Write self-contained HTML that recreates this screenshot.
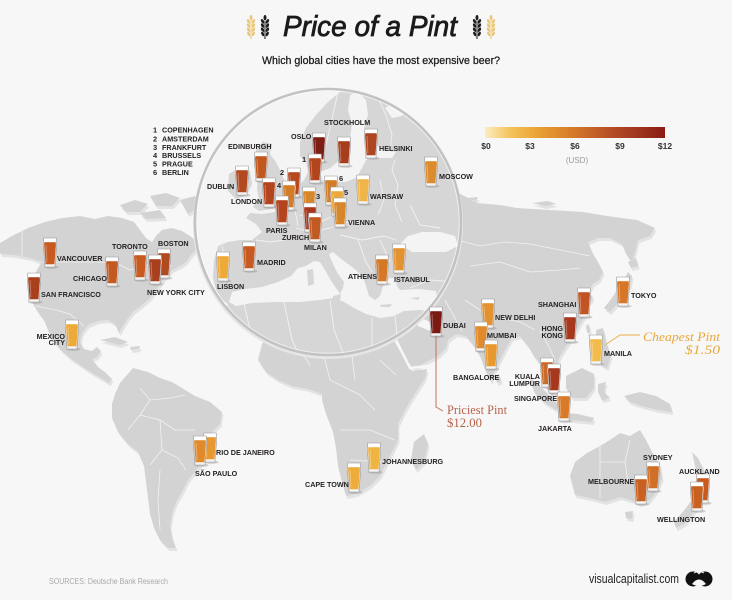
<!DOCTYPE html>
<html><head><meta charset="utf-8"><style>
html,body{margin:0;padding:0;background:#f7f7f7}
svg{display:block}
.l{font-family:"Liberation Sans",sans-serif;font-weight:bold;font-size:7.2px;fill:#231f20}
.n{font-family:"Liberation Sans",sans-serif;font-weight:bold;font-size:7.4px;fill:#231f20}
</style></head><body>
<svg width="732" height="600" viewBox="0 0 732 600" xmlns="http://www.w3.org/2000/svg">
<defs>
<linearGradient id="lg" x1="0" x2="1" y1="0" y2="0">
<stop offset="0" stop-color="#fcecc2"/><stop offset=".14" stop-color="#f4c35a"/><stop offset=".3" stop-color="#e9a030"/><stop offset=".5" stop-color="#d4772a"/><stop offset=".72" stop-color="#b24a25"/><stop offset="1" stop-color="#8a1c16"/>
</linearGradient>
<clipPath id="cc"><circle cx="328" cy="222" r="133"/></clipPath>
<g id="gl">
<ellipse cx="1.5" cy="29.2" rx="7" ry="1.6" fill="#8f8f8f" opacity=".4"/>
<path d="M-6.3,0 L6.3,0 L6.7,7 L5.1,26.3 L5.1,29 L-5.1,29 L-5.1,26.3 L-6.7,7 Z" fill="#f4f4f4" stroke="#9a9a9a" stroke-width=".6"/>
<path d="M-5.6,4 L5.6,4 L5.9,7 L4.4,26.2 L-4.4,26.2 L-5.9,7 Z" fill="currentColor"/>
<rect x="-5.6" y="0.7" width="11.2" height="3.5" fill="#fff"/>
<path d="M-3.9,7 L-3.1,24.5" stroke="#fff" stroke-opacity=".3" stroke-width="1"/>
</g>
<g id="wh">
<line x1="0" y1="5" x2="0" y2="24" stroke="currentColor" stroke-width="1.1"/>
<ellipse cx="0" cy="2.6" rx="1.7" ry="2.9" fill="currentColor" stroke="#f7f7f7" stroke-width=".5"/>
<ellipse cx="-2.3" cy="6.5" rx="1.7" ry="2.9" transform="rotate(-28 -2.3 6.5)" fill="currentColor" stroke="#f7f7f7" stroke-width=".5"/>
<ellipse cx="2.3" cy="6.5" rx="1.7" ry="2.9" transform="rotate(28 2.3 6.5)" fill="currentColor" stroke="#f7f7f7" stroke-width=".5"/>
<ellipse cx="-2.3" cy="10.7" rx="1.7" ry="2.9" transform="rotate(-28 -2.3 10.7)" fill="currentColor" stroke="#f7f7f7" stroke-width=".5"/>
<ellipse cx="2.3" cy="10.7" rx="1.7" ry="2.9" transform="rotate(28 2.3 10.7)" fill="currentColor" stroke="#f7f7f7" stroke-width=".5"/>
<ellipse cx="-2.3" cy="14.9" rx="1.7" ry="2.9" transform="rotate(-28 -2.3 14.9)" fill="currentColor" stroke="#f7f7f7" stroke-width=".5"/>
<ellipse cx="2.3" cy="14.9" rx="1.7" ry="2.9" transform="rotate(28 2.3 14.9)" fill="currentColor" stroke="#f7f7f7" stroke-width=".5"/>
<ellipse cx="-2.2" cy="19" rx="1.6" ry="2.7" transform="rotate(-28 -2.2 19)" fill="currentColor" stroke="#f7f7f7" stroke-width=".5"/>
<ellipse cx="2.2" cy="19" rx="1.6" ry="2.7" transform="rotate(28 2.2 19)" fill="currentColor" stroke="#f7f7f7" stroke-width=".5"/>
</g>
<g id="land">
<path d="M0,243 L12,236 L28,228 L45,222 L62,218 L80,216 L95,219 L108,216 L122,218 L134,222 L140,230 L146,238 L152,242 L156,236 L162,230 L172,228 L182,231 L190,236 L197,242 L196,250 L190,256 L186,262 L180,266 L172,270 L166,276 L161,283 L156,290 L150,298 L142,305 L134,311 L128,318 L123,326 L119,333 L115,324 L108,320 L98,321 L88,325 L82,333 L80,342 L84,349 L92,351 L97,347 L101,351 L97,357 L92,359 L98,367 L106,373 L112,379 L109,383 L99,377 L89,371 L80,365 L70,358 L61,350 L53,340 L48,330 L44,320 L38,312 L32,302 L30,290 L33,278 L38,268 L42,262 L30,258 L15,255 L0,254 Z"/>
<path d="M120,205 L135,200 L148,204 L140,212 L126,212 Z M150,196 L166,193 L180,198 L172,206 L156,206 Z M180,200 L195,196 L200,206 L188,214 Z M140,213 L160,210 L166,218 L146,219 Z M100,340 L115,337 L128,342 L120,345 Z M130,347 L140,346 L139,349 L131,350 Z"/>
<path d="M120,383 L133,368 L148,372 L160,378 L172,382 L182,388 L195,396 L210,402 L222,412 L220,424 L212,432 L206,445 L204,460 L196,470 L188,480 L182,492 L176,502 L172,514 L170,526 L172,538 L176,548 L168,548 L160,540 L154,528 L150,514 L148,498 L146,482 L144,466 L138,452 L128,444 L118,432 L112,418 L112,404 L115,394 Z"/>
<path d="M258,360 L262,344 L272,326 L290,312 L320,302 L350,304 L380,318 L386,326 L396,344 L406,362 L412,371 L427,369 L425,378 L416,392 L406,408 L398,424 L398,440 L390,456 L380,476 L370,486 L356,494 L346,496 L342,482 L338,466 L336,448 L333,432 L326,414 L322,400 L322,394 L308,389 L292,386 L278,380 L266,372 Z"/>
<path d="M414,442 L424,434 L428,444 L424,462 L416,470 L411,460 Z"/>
<path d="M430,170 L457,192 L477,203 L500,205 L517,208 L550,210 L583,212 L607,216 L637,220 L655,228 L650,236 L638,240 L635,252 L632,262 L626,254 L622,244 L610,238 L598,238 L588,242 L592,252 L598,262 L603,272 L599,280 L593,284 L589,291 L593,298 L588,304 L586,314 L580,324 L572,338 L565,348 L559,358 L556,370 L553,380 L556,392 L552,396 L546,388 L542,376 L540,364 L534,356 L528,346 L520,336 L512,338 L506,348 L500,360 L494,372 L491,382 L486,372 L480,356 L474,346 L466,336 L456,334 L448,340 L446,348 L438,356 L428,361 L414,369 L408,362 L400,348 L392,334 L384,322 L380,300 L380,160 Z"/>
<path d="M532,203 L548,201 L556,204 L545,206 Z M466,198 L478,197 L476,201 Z"/>
<path d="M604,308 L612,298 L618,288 L624,280 L628,272 L632,276 L630,286 L624,296 L617,304 L610,312 Z M628,262 L636,258 L638,266 L631,268 Z"/>
<path d="M495,376 L499,374 L501,381 L497,383 Z M586,326 L589,324 L590,332 L587,333 Z"/>
<path d="M596,330 L603,328 L606,342 L611,356 L607,368 L600,364 L597,350 Z"/>
<path d="M566,376 L582,368 L594,374 L594,388 L586,398 L572,398 L566,388 Z"/>
<path d="M530,378 L538,384 L548,394 L560,406 L556,410 L544,402 L534,392 Z"/>
<path d="M558,412 L578,414 L594,418 L592,422 L572,420 L558,418 Z"/>
<path d="M598,384 L606,382 L604,392 L610,398 L602,400 L598,392 Z"/>
<path d="M624,396 L640,392 L656,396 L670,404 L672,412 L658,410 L642,406 L630,402 Z"/>
<path d="M570,476 L575,462 L587,453 L600,446 L610,440 L620,433 L630,436 L640,430 L646,440 L652,452 L660,465 L662,478 L656,492 L650,500 L640,504 L630,500 L620,497 L605,502 L590,498 L575,495 Z"/>
<path d="M625,512 L633,511 L632,519 L626,518 Z"/>
<path d="M692,452 L698,458 L704,470 L708,482 L708,490 L702,494 L698,484 L696,470 Z M696,494 L702,498 L694,512 L684,524 L676,528 L674,522 L686,508 Z"/>
</g>
</defs>

<rect width="732" height="600" fill="#f7f7f7"/>

<use href="#land" fill="#e3e3e3" transform="translate(1.5,3)"/>
<use href="#land" fill="#d3d3d3"/>
<path d="M416,318 L426,320 L436,326 L442,332 L438,334 L428,330 L418,326 Z" fill="#f7f7f7"/>
<path d="M384,321 L396,340 L410,368 L428,366" fill="none" stroke="#f7f7f7" stroke-width="2.5"/>
<g fill="none" stroke="#f2f2f2" stroke-width=".8">
<path d="M42,262 L100,262 L118,264 L130,270 L145,266 L158,262 L172,266"/>
<path d="M22,230 L22,256"/>
<path d="M36,306 L56,310 L70,314 L84,326"/>
<path d="M140,388 L150,400 L170,398 L185,395 M150,400 L140,415 L128,430 M140,415 L160,420 L175,430 L195,430 M160,420 L162,450 L150,465 M162,450 L178,458 L186,470 M160,470 L158,500 L160,530"/>
<path d="M290,322 L300,350 L310,365 M320,340 L330,380 L360,395 L375,410 M350,340 L355,380 M380,360 L396,375 M340,430 L370,430 L395,440 M350,460 L385,462"/>
<path d="M457,240 L480,246 L505,242 L530,244 L560,250 L590,256 M470,266 L500,262 L530,272 L560,270 L580,268 M465,300 L480,310 L500,318 L520,322 L535,330 M540,330 L548,345 L555,360 M445,300 L455,318 L462,332"/>
<path d="M600,438 L600,498 M600,462 L625,462 L630,440 M625,462 L628,482 L650,482"/>
</g>

<circle cx="328" cy="224" r="135" fill="#e6e6e6"/>
<g clip-path="url(#cc)">
<rect x="190" y="85" width="280" height="280" fill="#d6d6d6"/>
<g fill="#f4f4f4">
<path d="M190,60 L352,60 L350,86 L340,92 L328,102 L316,115 L306,128 L300,142 L300,156 L306,162 L308,172 L304,180 L298,186 L292,196 L284,206 L276,212 L262,214 L250,213 L246,218 L256,224 L262,232 L252,240 L240,240 L228,242 L218,246 L214,260 L213,278 L216,290 L222,300 L228,304 L220,318 L210,332 L205,345 L190,345 Z"/>
<path d="M350,95 L358,92 L366,100 L368,115 L364,128 L370,142 L385,150 L396,152 L392,158 L375,158 L366,160 L362,168 L356,178 L345,182 L332,182 L322,180 L320,172 L330,168 L340,160 L346,150 L350,138 L352,124 L348,110 Z"/>
<path d="M385,108 L398,100 L408,106 L402,116 L392,118 Z"/>
<path d="M229,302 L232,292 L245,289 L262,287 L278,282 L291,276 L298,268 L306,266 L314,261 L320,262 L325,270 L330,279 L336,288 L340,294 L343,288 L344,282 L338,274 L333,264 L329,254 L333,252 L340,258 L348,264 L356,270 L363,277 L366,286 L369,296 L375,300 L380,296 L383,286 L389,278 L395,278 L397,286 L400,290 L418,289 L436,291 L437,302 L436,312 L420,310 L404,311 L394,316 L380,318 L366,314 L354,308 L344,302 L334,298 L320,300 L300,302 L276,302 L252,303 L236,306 Z"/>
<path d="M400,244 L408,236 L422,232 L440,232 L455,236 L458,246 L446,252 L428,252 L412,252 Z"/>
</g>
<g fill="#d6d6d6">
<path d="M229,174 L240,167 L250,171 L252,184 L247,195 L236,199 L228,191 Z"/>
<path d="M256,150 L263,142 L272,144 L270,154 L276,162 L282,174 L286,186 L289,198 L284,206 L272,209 L259,211 L253,207 L259,199 L257,189 L258,178 L254,166 Z"/>
<path d="M307,270 L313,269 L314,284 L308,286 Z M333,296 L341,294 L340,301 L333,300 Z M380,305 L392,304 L390,307 L381,307 Z M410,298 L420,297 L418,300 Z"/>
</g>
<g fill="none" stroke="#f2f2f2" stroke-width=".9">
<path d="M338,92 L334,110 L330,128 L326,145 L322,158"/>
<path d="M378,98 L386,115 L392,135 L390,150"/>
<path d="M395,160 L392,170 L398,185 L395,205 L402,222"/>
<path d="M328,183 L330,200 L334,212"/>
<path d="M380,180 L384,200 L378,215"/>
<path d="M300,215 L320,222 L335,215"/>
<path d="M292,200 L296,215 L298,226"/>
<path d="M256,240 L270,242 L284,240"/>
<path d="M222,246 L226,262 L224,285"/>
<path d="M296,228 L312,232 L330,228 L348,222 L365,222"/>
<path d="M340,235 L362,240 L384,236 L396,240 M358,240 L366,262 L372,272 M380,240 L390,262"/>
<path d="M410,288 L430,280 L456,282"/>
<path d="M410,205 L420,225 L440,228"/>
<path d="M244,303 L250,330 L265,357 M284,302 L292,340 L300,357 M330,300 L334,330 L345,357 M372,318 L372,357 M395,316 L398,345"/>
</g>
</g>
<circle cx="328" cy="222" r="131.5" fill="none" stroke="#ffffff" stroke-opacity=".6" stroke-width="1.5"/>
<circle cx="328" cy="222" r="133" fill="none" stroke="#c2c2c2" stroke-width="2.5"/>

<path d="M436,336 L436,407 L443,411" fill="none" stroke="#c0705a" stroke-width="1"/>
<path d="M605,345 L620,335 L640,335" fill="none" stroke="#eab04a" stroke-width="1"/>

<use href="#gl" transform="translate(319,133)" style="color:#7d1e14"/>
<use href="#gl" transform="translate(344,137)" style="color:#a63d1c"/>
<use href="#gl" transform="translate(371,129)" style="color:#ad4520"/>
<use href="#gl" transform="translate(261,152)" style="color:#c0581f"/>
<use href="#gl" transform="translate(315,154)" style="color:#b2451e"/>
<use href="#gl" transform="translate(242,166)" style="color:#b34a1f"/>
<use href="#gl" transform="translate(294,168)" style="color:#b5481e"/>
<use href="#gl" transform="translate(331,176)" style="color:#d47d28"/>
<use href="#gl" transform="translate(363,175)" style="color:#f0b548"/>
<use href="#gl" transform="translate(431,157)" style="color:#dc8c2c"/>
<use href="#gl" transform="translate(269,178)" style="color:#b3441d"/>
<use href="#gl" transform="translate(289,181)" style="color:#d47d28"/>
<use href="#gl" transform="translate(309,187)" style="color:#d8862b"/>
<use href="#gl" transform="translate(337,187)" style="color:#eda83a"/>
<use href="#gl" transform="translate(282,196)" style="color:#b3441d"/>
<use href="#gl" transform="translate(340,198)" style="color:#d8862b"/>
<use href="#gl" transform="translate(310,203)" style="color:#a8361b"/>
<use href="#gl" transform="translate(315,213)" style="color:#c05a22"/>
<use href="#gl" transform="translate(249,242)" style="color:#c65a20"/>
<use href="#gl" transform="translate(223,252)" style="color:#eeaa38"/>
<use href="#gl" transform="translate(399,244)" style="color:#e2932f"/>
<use href="#gl" transform="translate(382,255)" style="color:#d47828"/>
<use href="#gl" transform="translate(436,307)" style="color:#7a1a12"/>
<use href="#gl" transform="translate(488,299)" style="color:#e2932f"/>
<use href="#gl" transform="translate(481,322)" style="color:#e08a2c"/>
<use href="#gl" transform="translate(491,340)" style="color:#e8992e"/>
<use href="#gl" transform="translate(584,288)" style="color:#c25424"/>
<use href="#gl" transform="translate(570,313)" style="color:#a5381d"/>
<use href="#gl" transform="translate(623,277)" style="color:#d87628"/>
<use href="#gl" transform="translate(596,335)" style="color:#f2bb4a"/>
<use href="#gl" transform="translate(547,358)" style="color:#c86a28"/>
<use href="#gl" transform="translate(554,364)" style="color:#a5381d"/>
<use href="#gl" transform="translate(564,392)" style="color:#d87a2a"/>
<use href="#gl" transform="translate(50,238)" style="color:#c85a20"/>
<use href="#gl" transform="translate(34,273)" style="color:#a8401e"/>
<use href="#gl" transform="translate(112,257)" style="color:#c25a22"/>
<use href="#gl" transform="translate(140,251)" style="color:#c85a20"/>
<use href="#gl" transform="translate(164,249)" style="color:#b04a20"/>
<use href="#gl" transform="translate(155,255)" style="color:#a8401e"/>
<use href="#gl" transform="translate(72,320)" style="color:#eeaa38"/>
<use href="#gl" transform="translate(210,433)" style="color:#e8982e"/>
<use href="#gl" transform="translate(200,436)" style="color:#e08a2c"/>
<use href="#gl" transform="translate(374,443)" style="color:#f0b440"/>
<use href="#gl" transform="translate(354,463)" style="color:#eeac3a"/>
<use href="#gl" transform="translate(653,462)" style="color:#d07028"/>
<use href="#gl" transform="translate(641,475)" style="color:#c86020"/>
<use href="#gl" transform="translate(703,474)" style="color:#c85a20"/>
<use href="#gl" transform="translate(697,482)" style="color:#c86020"/>

<text class="l" x="324" y="125">STOCKHOLM</text>
<text class="l" x="291" y="139">OSLO</text>
<text class="l" x="379" y="151">HELSINKI</text>
<text class="l" x="228" y="149">EDINBURGH</text>
<text class="n" x="302" y="162">1</text>
<text class="n" x="280" y="175">2</text>
<text class="n" x="339" y="181">6</text>
<text class="l" x="439" y="179">MOSCOW</text>
<text class="l" x="207" y="189">DUBLIN</text>
<text class="n" x="277" y="188">4</text>
<text class="n" x="344" y="195">5</text>
<text class="n" x="316" y="199">3</text>
<text class="l" x="370" y="199">WARSAW</text>
<text class="l" x="231" y="204">LONDON</text>
<text class="l" x="348" y="225">VIENNA</text>
<text class="l" x="266" y="233">PARIS</text>
<text class="l" x="282" y="240">ZURICH</text>
<text class="l" x="304" y="250">MILAN</text>
<text class="l" x="257" y="265">MADRID</text>
<text class="l" x="217" y="289">LISBON</text>
<text class="l" x="348" y="279">ATHENS</text>
<text class="l" x="394" y="282">ISTANBUL</text>
<text class="l" x="443" y="328">DUBAI</text>
<text class="l" x="495" y="320">NEW DELHI</text>
<text class="l" x="487" y="338">MUMBAI</text>
<text class="l" x="453" y="380">BANGALORE</text>
<text class="l" x="538" y="307">SHANGHAI</text>
<text class="l" x="563" y="331" text-anchor="end">HONG</text>
<text class="l" x="563" y="338" text-anchor="end">KONG</text>
<text class="l" x="631" y="298">TOKYO</text>
<text class="l" x="604" y="356">MANILA</text>
<text class="l" x="540" y="379" text-anchor="end">KUALA</text>
<text class="l" x="540" y="386" text-anchor="end">LUMPUR</text>
<text class="l" x="514" y="401">SINGAPORE</text>
<text class="l" x="538" y="431">JAKARTA</text>
<text class="l" x="57" y="261">VANCOUVER</text>
<text class="l" x="41" y="297">SAN FRANCISCO</text>
<text class="l" x="73" y="281">CHICAGO</text>
<text class="l" x="112" y="249">TORONTO</text>
<text class="l" x="147" y="295">NEW YORK CITY</text>
<text class="l" x="158" y="246">BOSTON</text>
<text class="l" x="65" y="339" text-anchor="end">MEXICO</text>
<text class="l" x="65" y="345" text-anchor="end">CITY</text>
<text class="l" x="216" y="455">RIO DE JANEIRO</text>
<text class="l" x="195" y="476">SÃO PAULO</text>
<text class="l" x="382" y="464">JOHANNESBURG</text>
<text class="l" x="305" y="487">CAPE TOWN</text>
<text class="l" x="643" y="460">SYDNEY</text>
<text class="l" x="588" y="484">MELBOURNE</text>
<text class="l" x="679" y="474">AUCKLAND</text>
<text class="l" x="657" y="522">WELLINGTON</text>

<text class="n" x="153" y="132.5">1</text><text class="l" x="162" y="132.5">COPENHAGEN</text>
<text class="n" x="153" y="141.3">2</text><text class="l" x="162" y="141.3">AMSTERDAM</text>
<text class="n" x="153" y="149.8">3</text><text class="l" x="162" y="149.8">FRANKFURT</text>
<text class="n" x="153" y="158.2">4</text><text class="l" x="162" y="158.2">BRUSSELS</text>
<text class="n" x="153" y="166.6">5</text><text class="l" x="162" y="166.6">PRAGUE</text>
<text class="n" x="153" y="175">6</text><text class="l" x="162" y="175">BERLIN</text>

<text x="447" y="414" font-family="'Liberation Serif',serif" font-size="13" fill="#b5634b" textLength="60" lengthAdjust="spacingAndGlyphs">Priciest Pint</text>
<text x="447" y="427" font-family="'Liberation Serif',serif" font-size="13" fill="#b5634b" textLength="35" lengthAdjust="spacingAndGlyphs">$12.00</text>
<text x="643" y="341" font-family="'Liberation Serif',serif" font-style="italic" font-size="13" fill="#e8a838" textLength="77" lengthAdjust="spacingAndGlyphs">Cheapest Pint</text>
<text x="685" y="354" font-family="'Liberation Serif',serif" font-style="italic" font-size="13" fill="#e8a838" textLength="35" lengthAdjust="spacingAndGlyphs">$1.50</text>

<use href="#wh" transform="translate(251,15)" style="color:#e9c87a"/>
<use href="#wh" transform="translate(265,15)" style="color:#1e1e1e"/>
<use href="#wh" transform="translate(477,15)" style="color:#1e1e1e"/>
<use href="#wh" transform="translate(491,15)" style="color:#e9c87a"/>
<text x="283" y="36" font-family="'Liberation Sans',sans-serif" font-size="29" font-style="italic" fill="#1b1b1b" stroke="#1b1b1b" stroke-width=".8" textLength="174" lengthAdjust="spacingAndGlyphs">Price of a Pint</text>
<text x="262" y="64" font-family="'Liberation Sans',sans-serif" font-size="10.6" fill="#1a1a1a" stroke="#1a1a1a" stroke-width=".25" textLength="238" lengthAdjust="spacingAndGlyphs">Which global cities have the most expensive beer?</text>

<rect x="485" y="127" width="180" height="11" fill="url(#lg)"/>
<g font-family="'Liberation Sans',sans-serif" font-weight="bold" font-size="8.5" fill="#333" text-anchor="middle">
<text x="486" y="149">$0</text>
<text x="530" y="149">$3</text>
<text x="575" y="149">$6</text>
<text x="620" y="149">$9</text>
<text x="665" y="149">$12</text>
</g>
<text x="577" y="163" font-family="'Liberation Sans',sans-serif" font-size="8" fill="#9a9a9a" text-anchor="middle">(USD)</text>

<text x="49" y="584" font-family="'Liberation Sans',sans-serif" font-size="8.5" fill="#a8a8a8" textLength="119" lengthAdjust="spacingAndGlyphs">SOURCES: Deutsche Bank Research</text>
<text x="589" y="583" font-family="'Liberation Sans',sans-serif" font-size="12.5" fill="#222" textLength="90" lengthAdjust="spacingAndGlyphs">visualcapitalist.com</text>
<circle cx="693" cy="579" r="7.5" fill="#111"/>
<circle cx="705" cy="579" r="7.5" fill="#111"/>
<path d="M692,584 Q699,575 706,584 Q699,588 692,584 Z" fill="#f7f7f7"/>
<path d="M694,573 Q699,570 704,573" fill="none" stroke="#f7f7f7" stroke-width="1"/>
</svg>
</body></html>
